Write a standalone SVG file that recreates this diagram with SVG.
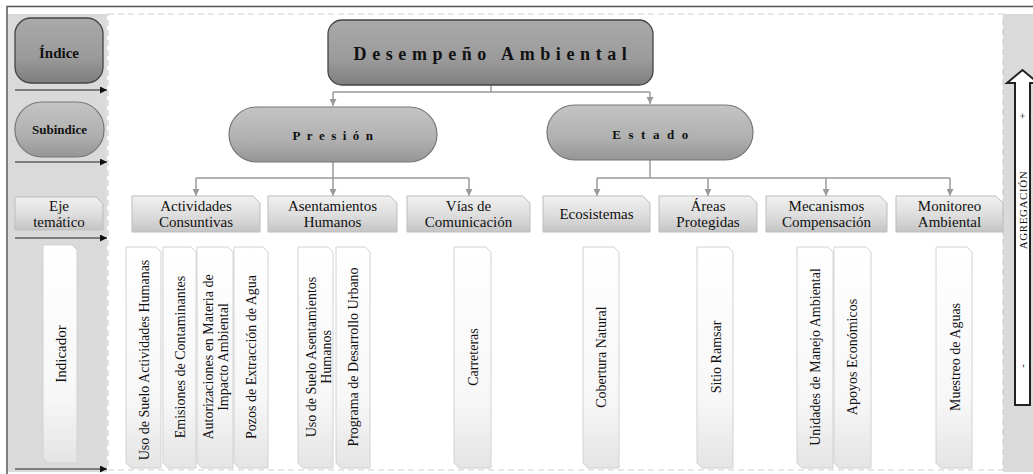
<svg xmlns="http://www.w3.org/2000/svg" width="1033" height="474" viewBox="0 0 1033 474" font-family="'Liberation Serif', 'DejaVu Serif', serif">
<defs>
<linearGradient id="gDark" x1="0" y1="0" x2="0" y2="1">
<stop offset="0" stop-color="#a9a9a9"/><stop offset="0.6" stop-color="#9b9b9b"/><stop offset="1" stop-color="#7e7e7e"/>
</linearGradient>
<linearGradient id="gMid" x1="0" y1="0" x2="0" y2="1">
<stop offset="0" stop-color="#c4c4c4"/><stop offset="0.6" stop-color="#b0b0b0"/><stop offset="1" stop-color="#959595"/>
</linearGradient>
<linearGradient id="gLight" x1="0" y1="0" x2="0" y2="1">
<stop offset="0" stop-color="#f0f0f0"/><stop offset="0.5" stop-color="#dfdfdf"/><stop offset="1" stop-color="#c4c4c4"/>
</linearGradient>
<linearGradient id="gInd" x1="0" y1="0" x2="0" y2="1">
<stop offset="0" stop-color="#ffffff"/><stop offset="0.7" stop-color="#f7f7f7"/><stop offset="1" stop-color="#e4e4e4"/>
</linearGradient>
<marker id="ag" viewBox="0 0 8 8" refX="8" refY="4" markerWidth="7" markerHeight="7" markerUnits="userSpaceOnUse" orient="auto">
<path d="M0,0 L8,4 L0,8 z" fill="#9a9a9a"/>
</marker>
<marker id="ab" viewBox="0 0 8 8" refX="8" refY="4" markerWidth="8" markerHeight="7" markerUnits="userSpaceOnUse" orient="auto">
<path d="M0,0 L8,4 L0,8 z" fill="#111"/>
</marker>
<style>
text{font-family:'Liberation Serif','Times New Roman','DejaVu Serif',serif}
.t{fill:#111;text-anchor:middle}
.bold{font-weight:bold}
.eje{fill:url(#gLight);stroke:#bdbdbd;stroke-width:1}
.ind{fill:url(#gInd);stroke:#d2d2d2;stroke-width:1}
.con{fill:none;stroke:#9a9a9a;stroke-width:1.5}
.lev{stroke:#222;stroke-width:1.2;fill:none}
</style>
</defs>
<rect x="0" y="0" width="1033" height="474" fill="#ffffff"/>
<!-- side columns -->
<rect x="8" y="14" width="99" height="458" fill="#dadada"/>
<rect x="1003" y="14" width="30" height="458" fill="#dadada"/>
<rect x="108" y="14" width="895" height="456" fill="#ffffff" stroke="#cfcfcf" stroke-width="1.2" stroke-dasharray="6,4"/>
<rect x="7" y="6.5" width="1040" height="480" fill="none" stroke="#555" stroke-width="1.5"/>

<!-- legend column -->
<g id="legend-indice">
<rect x="15" y="18" width="88" height="65" rx="16" fill="url(#gDark)" stroke="#444" stroke-width="1.3"/>
<text class="t bold" x="59" y="58" font-size="15">Índice</text>
</g>
<g id="legend-subindice">
<rect x="15" y="102" width="89" height="55" rx="27" fill="url(#gMid)" stroke="#777" stroke-width="1.2"/>
<text class="t bold" x="59.5" y="134" font-size="13">Subindice</text>
</g>
<g id="legend-eje">
<path class="eje" d="M15,197 H96 L103,204 V230 H15 Z"/>
<text class="t" x="59" y="211" font-size="15">Eje</text>
<text class="t" x="59" y="226.5" font-size="15">temático</text>
</g>
<g id="legend-indicador">
<path class="ind" d="M43,245 H72 L77,250 V463 H48 L43,458 Z" fill="#fafafa"/>
<text class="t" font-size="15" transform="translate(65.5,354) rotate(-90)">Indicador</text>
</g>
<g id="legend-arrows">
<line class="lev" x1="15" y1="90" x2="107" y2="90" marker-end="url(#ab)"/>
<line class="lev" x1="15" y1="162" x2="107" y2="162" marker-end="url(#ab)"/>
<line class="lev" x1="15" y1="238" x2="107" y2="238" marker-end="url(#ab)"/>
<line class="lev" x1="15" y1="469" x2="107" y2="469" marker-end="url(#ab)"/>
</g>

<!-- connectors -->
<g id="connectors">
<path class="con" d="M491,85 V92 M333,92 H650"/>
<path class="con" d="M333,92 V106" marker-end="url(#ag)"/>
<path class="con" d="M650,92 V104" marker-end="url(#ag)"/>
<path class="con" d="M333,162 V178 M196,178 H469"/>
<path class="con" d="M196,178 V196" marker-end="url(#ag)"/>
<path class="con" d="M333,178 V196" marker-end="url(#ag)"/>
<path class="con" d="M469,178 V196" marker-end="url(#ag)"/>
<path class="con" d="M650,160 V178 M597,178 H950"/>
<path class="con" d="M597,178 V196" marker-end="url(#ag)"/>
<path class="con" d="M708,178 V196" marker-end="url(#ag)"/>
<path class="con" d="M826,178 V196" marker-end="url(#ag)"/>
<path class="con" d="M950,178 V196" marker-end="url(#ag)"/>
</g>

<!-- index -->
<g id="n-desempeno">
<rect x="328" y="20" width="325" height="65" rx="14" fill="url(#gDark)" stroke="#444" stroke-width="1.3"/>
<text class="t bold" x="493" y="60" font-size="18" letter-spacing="5.6">Desempeño Ambiental</text>
</g>
<!-- subindices -->
<g id="n-presion">
<rect x="229" y="107" width="208" height="55" rx="27.5" fill="url(#gMid)" stroke="#777" stroke-width="1.2"/>
<text class="t bold" x="336" y="140" font-size="13" letter-spacing="6.5">Presión</text>
</g>
<g id="n-estado">
<rect x="547" y="105" width="206" height="55" rx="27.5" fill="url(#gMid)" stroke="#777" stroke-width="1.2"/>
<text class="t bold" x="654" y="139" font-size="13" letter-spacing="7.5">Estado</text>
</g>

<!-- ejes temáticos -->
<g id="e-actividades">
<path class="eje" d="M132,196 H253 L260,203 V232 H132 Z"/>
<text class="t" x="196" y="211" font-size="15">Actividades</text>
<text class="t" x="196" y="227" font-size="15">Consuntivas</text>
</g>
<g id="e-asentamientos">
<path class="eje" d="M268,196 H390 L397,203 V232 H268 Z"/>
<text class="t" x="332.5" y="211" font-size="15">Asentamientos</text>
<text class="t" x="332.5" y="227" font-size="15">Humanos</text>
</g>
<g id="e-vias">
<path class="eje" d="M407,196 H523 L530,203 V232 H407 Z"/>
<text class="t" x="468.5" y="211" font-size="15">Vías de</text>
<text class="t" x="468.5" y="227" font-size="15">Comunicación</text>
</g>
<g id="e-ecosistemas">
<path class="eje" d="M543,196 H643 L650,203 V232 H543 Z"/>
<text class="t" x="596.5" y="219" font-size="15">Ecosistemas</text>
</g>
<g id="e-areas">
<path class="eje" d="M659,196 H750 L757,203 V232 H659 Z"/>
<text class="t" x="708" y="211" font-size="15">Áreas</text>
<text class="t" x="708" y="227" font-size="15">Protegidas</text>
</g>
<g id="e-mecanismos">
<path class="eje" d="M766,196 H880 L887,203 V232 H766 Z"/>
<text class="t" x="826.5" y="211" font-size="15">Mecanismos</text>
<text class="t" x="826.5" y="227" font-size="15">Compensación</text>
</g>
<g id="e-monitoreo">
<path class="eje" d="M896,196 H996 L1003,203 V232 H896 Z"/>
<text class="t" x="949.5" y="211" font-size="15">Monitoreo</text>
<text class="t" x="949.5" y="227" font-size="15">Ambiental</text>
</g>

<!-- indicadores -->
<g id="i-uso-suelo-act">
<path class="ind" d="M126,247 H156 L161,252 V468 H131 L126,463 Z"/>
<text class="t" font-size="14" transform="translate(148.5,360) rotate(-90)">Uso de Suelo Actividades Humanas</text>
</g>
<g id="i-emisiones">
<path class="ind" d="M163,247 H191 L196,252 V468 H168 L163,463 Z"/>
<text class="t" font-size="14" transform="translate(184.5,357) rotate(-90)">Emisiones de Contaminantes</text>
</g>
<g id="i-autorizaciones">
<path class="ind" d="M197,247 H228 L233,252 V468 H202 L197,463 Z"/>
<text class="t" font-size="14" transform="translate(213,357) rotate(-90)"><tspan x="0" dy="0">Autorizaciones en Materia de</tspan><tspan x="0" dy="15">Impacto Ambiental</tspan></text>
</g>
<g id="i-pozos">
<path class="ind" d="M234,247 H263 L268,252 V468 H239 L234,463 Z"/>
<text class="t" font-size="14" transform="translate(256,357) rotate(-90)">Pozos de Extracción de Agua</text>
</g>
<g id="i-uso-suelo-asent">
<path class="ind" d="M298,247 H328 L333,252 V468 H303 L298,463 Z"/>
<text class="t" font-size="14" transform="translate(316,357) rotate(-90)"><tspan x="0" dy="0">Uso de Suelo Asentamientos</tspan><tspan x="0" dy="14.5">Humanos</tspan></text>
</g>
<g id="i-programa">
<path class="ind" d="M336,247 H365 L370,252 V468 H341 L336,463 Z"/>
<text class="t" font-size="14" transform="translate(358,357) rotate(-90)">Programa de Desarrollo Urbano</text>
</g>
<g id="i-carreteras">
<path class="ind" d="M454,247 H486 L491,252 V468 H459 L454,463 Z"/>
<text class="t" font-size="14" transform="translate(478,357) rotate(-90)">Carreteras</text>
</g>
<g id="i-cobertura">
<path class="ind" d="M583,247 H614 L619,252 V468 H588 L583,463 Z"/>
<text class="t" font-size="14" transform="translate(606,357) rotate(-90)">Cobertura Natural</text>
</g>
<g id="i-ramsar">
<path class="ind" d="M697,247 H728 L733,252 V468 H702 L697,463 Z"/>
<text class="t" font-size="14" transform="translate(720.5,357) rotate(-90)">Sitio Ramsar</text>
</g>
<g id="i-unidades">
<path class="ind" d="M797,247 H828 L833,252 V468 H802 L797,463 Z"/>
<text class="t" font-size="14" transform="translate(820,357) rotate(-90)">Unidades de Manejo Ambiental</text>
</g>
<g id="i-apoyos">
<path class="ind" d="M834,247 H866 L871,252 V468 H839 L834,463 Z"/>
<text class="t" font-size="14" transform="translate(857,357) rotate(-90)">Apoyos Económicos</text>
</g>
<g id="i-muestreo">
<path class="ind" d="M936,247 H967 L972,252 V468 H941 L936,463 Z"/>
<text class="t" font-size="14" transform="translate(959.5,357) rotate(-90)">Muestreo de Aguas</text>
</g>

<!-- agregación arrow -->
<g id="agregacion">
<path d="M1015,405 V83 H1007 L1022.5,70 L1038,83 H1030 V405 Z" fill="#ffffff" stroke="#222" stroke-width="2"/>
<text class="t" font-size="11" letter-spacing="0.6" transform="translate(1026.5,210) rotate(-90)">AGREGACIÓN</text>
<text class="t" font-size="11" transform="translate(1026,116) rotate(-90)">+</text>
<text class="t" font-size="11" transform="translate(1026,366) rotate(-90)">-</text>
</g>
</svg>
